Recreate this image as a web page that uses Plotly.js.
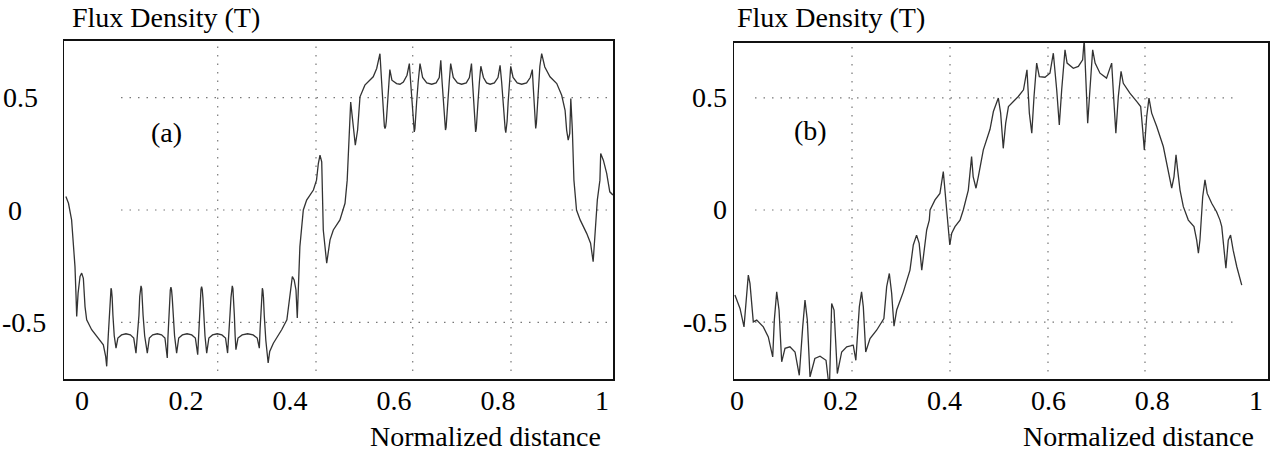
<!DOCTYPE html>
<html>
<head>
<meta charset="utf-8">
<script src="https://cdn.plot.ly/plotly-3.0.1.min.js"></script>
<style>html,body{margin:0;padding:0;background:#fff;}#chart{width:1271px;height:452px;}</style>
</head>
<body>
<div id="chart"></div>
<script>
// ---------- data ----------
const xTicks = [0, 0.2, 0.4, 0.6, 0.8, 1];
const xTickText = ['0', '0.2', '0.4', '0.6', '0.8', '1'];
const yTicks = [0.5, 0, -0.5];
const yTickText = ['0.5', '0', '-0.5'];
const yTitle = 'Flux Density (T)';
const xTitle = 'Normalized distance';
const panelLabels = ['(a)', '(b)'];

const distA = [-0.031,-0.026,-0.020,-0.016,-0.0135,-0.0115,-0.0102,-0.0075,-0.0038,-0.0006,0.0026,0.0058,0.009,0.0186,0.0314,0.041,0.0455,0.0475,
0.0505,0.0525,0.0538,0.0548,0.0558,0.0568,0.0580,0.0595,0.0620,0.0654,
0.069,0.076,0.0846,0.093,0.0995,0.1038,
0.1070,0.1095,0.1110,0.1122,0.1135,0.1148,0.1160,0.1175,0.1205,0.1256,
0.1295,0.136,0.1448,0.153,0.1595,0.164,
0.1652,0.1667,0.1685,0.1698,0.1710,0.1722,0.1735,0.1752,0.1780,0.1820,
0.186,0.193,0.202,0.211,0.218,0.2225,
0.2240,0.2255,0.2275,0.2288,0.2300,0.2312,0.2325,0.2342,0.2365,0.2398,
0.244,0.251,0.260,0.269,0.276,0.280,
0.2825,0.2845,0.2865,0.2878,0.2890,0.2902,0.2915,0.2930,0.2945,0.2960,
0.300,0.308,0.3185,0.329,0.337,0.341,
0.3425,0.3440,0.3453,0.3460,0.3468,0.3478,0.3490,0.3505,0.3535,0.3580,
0.361,0.368,0.384,0.394,0.400,0.4045,0.408,0.4115,0.414,0.416,0.419,0.4256,0.432,0.445,0.451,0.4545,0.4577,0.461,0.464,0.4706,0.477,0.4833,0.496,0.5058,0.510,0.5167,0.5206,0.5256,0.530,0.533,0.5346,0.544,0.560,0.5667,0.573,
0.576,0.5785,0.5805,0.5815,0.5827,0.5840,0.5852,0.5872,0.5895,0.592,
0.596,0.605,0.6115,0.618,0.625,0.6295,
0.6320,0.6345,0.6365,0.6378,0.6390,0.6402,0.6415,0.6435,0.6465,0.650,
0.655,0.663,0.6725,0.681,0.687,0.690,
0.6925,0.6948,0.6965,0.6978,0.6990,0.7002,0.7015,0.7035,0.7062,0.709,
0.714,0.722,0.730,0.739,0.745,0.749,
0.7510,0.7530,0.7547,0.7558,0.7570,0.7582,0.7595,0.7615,0.7642,0.767,
0.772,0.778,0.785,0.793,0.800,0.804,
0.8070,0.8095,0.8125,0.8138,0.8150,0.8162,0.8175,0.8195,0.8220,0.8245,
0.829,0.837,0.8455,0.855,0.862,0.866,
0.868,0.8698,0.8712,0.8725,0.8738,0.8752,0.8775,0.8805,0.884,
0.890,0.900,0.913,0.9225,0.929,0.932,0.935,0.938,0.940,0.943,0.946,0.951,0.958,0.9705,0.978,0.983,0.9865,0.991,0.996,0.9975,1.0026,1.009,1.015,1.021];

const fluxA = [0.060,0.030,-0.044,-0.150,-0.252,-0.380,-0.474,-0.370,-0.296,-0.281,-0.304,-0.430,-0.489,-0.533,-0.570,-0.600,-0.652,-0.696,
-0.560,-0.470,-0.390,-0.358,-0.348,-0.358,-0.390,-0.470,-0.560,-0.615,
-0.570,-0.556,-0.551,-0.556,-0.570,-0.637,
-0.560,-0.470,-0.385,-0.350,-0.338,-0.350,-0.385,-0.470,-0.560,-0.637,
-0.570,-0.556,-0.551,-0.556,-0.570,-0.659,
-0.570,-0.470,-0.390,-0.356,-0.344,-0.356,-0.390,-0.470,-0.560,-0.637,
-0.570,-0.556,-0.551,-0.556,-0.570,-0.644,
-0.570,-0.470,-0.390,-0.353,-0.341,-0.353,-0.390,-0.470,-0.560,-0.637,
-0.570,-0.556,-0.551,-0.556,-0.570,-0.637,
-0.560,-0.470,-0.390,-0.350,-0.338,-0.350,-0.390,-0.470,-0.560,-0.622,
-0.570,-0.556,-0.551,-0.556,-0.570,-0.615,
-0.530,-0.440,-0.380,-0.358,-0.348,-0.358,-0.390,-0.470,-0.580,-0.681,
-0.630,-0.593,-0.533,-0.489,-0.370,-0.296,-0.311,-0.356,-0.481,-0.326,-0.163,0.000,0.044,0.089,0.133,0.207,0.244,0.215,-0.089,-0.237,-0.133,-0.089,-0.044,0.030,0.133,0.481,0.385,0.289,0.356,0.489,0.504,0.556,0.593,0.630,0.696,
0.578,0.470,0.395,0.372,0.363,0.372,0.395,0.480,0.570,0.625,
0.578,0.563,0.560,0.570,0.600,0.652,
0.570,0.480,0.395,0.362,0.348,0.362,0.395,0.480,0.570,0.652,
0.590,0.566,0.560,0.566,0.590,0.667,
0.570,0.480,0.400,0.368,0.356,0.368,0.400,0.480,0.570,0.652,
0.590,0.566,0.560,0.566,0.590,0.652,
0.570,0.480,0.395,0.362,0.348,0.362,0.395,0.480,0.570,0.640,
0.590,0.566,0.560,0.566,0.590,0.644,
0.570,0.480,0.395,0.360,0.344,0.360,0.395,0.480,0.570,0.640,
0.590,0.566,0.560,0.566,0.590,0.625,
0.540,0.450,0.390,0.363,0.385,0.440,0.540,0.640,0.696,
0.637,0.593,0.563,0.511,0.444,0.356,0.311,0.341,0.496,0.356,0.133,0.000,-0.044,-0.104,-0.148,-0.230,-0.089,0.044,0.133,0.252,0.222,0.163,0.081,0.067];

const distB = [-0.004,0.0058,0.0135,0.0187,0.0218,0.025,0.0283,0.0314,0.038,0.0507,
0.0603,0.0688,0.0719,0.0765,0.081,0.0861,0.0925,0.102,0.1118,0.12,
0.1266,0.131,0.1355,0.1407,0.15,0.16,0.1715,0.178,0.1824,0.187,
0.1933,0.2017,0.2114,0.224,0.229,0.2357,0.24,0.2434,0.248,0.2563,
0.269,0.283,0.2884,0.2935,0.298,0.3025,0.3077,0.3205,0.3333,0.3397,
0.346,0.351,0.356,0.36,0.3655,0.3705,0.372,0.3815,0.391,0.3975,
0.4027,0.407,0.41,0.4137,0.42,0.4297,0.436,0.4457,0.449,0.452,
0.455,0.4605,0.465,0.4746,0.4875,0.494,0.5035,0.508,0.513,0.5177,
0.523,0.529,0.542,0.552,0.5587,0.5633,0.568,0.5723,0.5774,0.5825,
0.5934,0.603,0.6095,0.616,0.621,0.6256,0.632,0.636,0.648,0.6577,
0.666,0.669,0.6724,0.6757,0.68,0.6853,0.69,0.6994,0.712,0.7219,
0.7264,0.73,0.7347,0.74,0.7443,0.757,0.77,0.7778,0.7817,0.7848,
0.7894,0.7938,0.799,0.8087,0.8214,0.831,0.8376,0.842,0.8459,0.849,
0.8536,0.86,0.8696,0.8805,0.8857,0.889,0.892,0.8973,0.9017,0.906,
0.9146,0.924,0.9306,0.934,0.937,0.942,0.9466,0.951,0.956,0.963,
0.9725];

const fluxB = [-0.379,-0.439,-0.521,-0.387,-0.29,-0.327,-0.432,-0.499,-0.491,-0.521,
-0.566,-0.655,-0.491,-0.365,-0.446,-0.677,-0.617,-0.61,-0.633,-0.737,
-0.521,-0.402,-0.491,-0.744,-0.662,-0.652,-0.67,-0.8,-0.417,-0.446,
-0.729,-0.633,-0.61,-0.603,-0.67,-0.432,-0.365,-0.432,-0.633,-0.573,
-0.536,-0.484,-0.342,-0.283,-0.372,-0.518,-0.446,-0.365,-0.268,-0.156,
-0.112,-0.149,-0.268,-0.179,-0.089,-0.045,0,0.045,0.074,0.171,
0.045,-0.059,-0.156,-0.104,-0.074,-0.045,0,0.089,0.164,0.238,
0.149,0.097,0.149,0.268,0.36,0.439,0.499,0.432,0.275,0.387,
0.461,0.476,0.506,0.536,0.625,0.432,0.342,0.506,0.655,0.595,
0.592,0.61,0.699,0.536,0.379,0.536,0.714,0.655,0.632,0.64,
0.67,0.76,0.536,0.387,0.536,0.714,0.655,0.61,0.588,0.655,
0.476,0.342,0.506,0.618,0.565,0.521,0.484,0.461,0.357,0.268,
0.417,0.499,0.432,0.372,0.283,0.179,0.097,0.149,0.246,0.179,
0.089,0.015,-0.045,-0.074,-0.134,-0.193,-0.134,0.059,0.134,0.074,
0.03,-0.008,-0.045,-0.074,-0.134,-0.26,-0.134,-0.112,-0.179,-0.253,
-0.335];

// ---------- layout helpers ----------
const W = 1271, H = 452;
const PX = x => x / W;
const PY = y => 1 - y / H;
const FONT = 'Liberation Serif, "Times New Roman", Times, serif';
const lineStyle = {color: '#333', width: 1.3};
const gridStyle = {color: '#777', width: 1.2, dash: '1.5px,7px'};

const traces = [
  {x: distA, y: fluxA, xaxis: 'x', yaxis: 'y', type: 'scatter', mode: 'lines', line: lineStyle, hoverinfo: 'skip'},
  {x: distB, y: fluxB, xaxis: 'x2', yaxis: 'y2', type: 'scatter', mode: 'lines', line: lineStyle, hoverinfo: 'skip'}
];

function xAxis(domain, range, anchor) {
  return {domain: domain, range: range, anchor: anchor, showgrid: false, zeroline: false,
    showline: true, mirror: true, linecolor: '#111', linewidth: 1.5,
    ticks: '', tickmode: 'array', tickvals: xTicks, ticktext: xTickText,
    ticklabelstandoff: -4,
    tickfont: {family: FONT, size: 28, color: '#000'}, fixedrange: true};
}
function yAxis(domain, range, anchor) {
  return {domain: domain, range: range, anchor: anchor, showgrid: false, zeroline: false,
    showline: true, mirror: true, linecolor: '#111', linewidth: 1.5,
    ticks: '', showticklabels: false, fixedrange: true};
}

const shapes = [];
function addGrid(xr, yr, vx, hx0, hx1, vyBottom) {
  vx.forEach(v => shapes.push({type: 'line', layer: 'below', xref: xr, yref: yr + ' domain',
    x0: v, x1: v, y0: vyBottom, y1: 1, line: gridStyle}));
  yTicks.forEach(v => shapes.push({type: 'line', layer: 'below', xref: xr, yref: yr,
    x0: hx0, x1: hx1, y0: v, y1: v, line: gridStyle}));
}
addGrid('x', 'y', [0.261, 0.45, 0.636, 0.825], 0.075, 1.0096, 0.024);
addGrid('x2', 'y2', [0.2216, 0.4104, 0.5992, 0.7861], 0.0347, 0.967, 0.022);

const tf = {family: FONT, size: 28, color: '#000'};
const annotations = [];
// y tick labels (panel a labels sit centred-ish, panel b labels hug the frame)
const labelCentreA = [20, 15, 24];
yTicks.forEach((v, i) => {
  annotations.push({xref: 'paper', yref: 'y', x: PX(labelCentreA[i]), y: v, xanchor: 'center', yanchor: 'middle', text: yTickText[i], showarrow: false, font: tf});
  annotations.push({xref: 'paper', yref: 'y2', x: PX(729), y: v, xanchor: 'right', yanchor: 'middle', text: yTickText[i], showarrow: false, font: tf});
});
// axis titles
annotations.push({xref: 'paper', yref: 'paper', x: PX(70), y: PY(18), xanchor: 'left', yanchor: 'middle', text: yTitle, showarrow: false, font: tf});
annotations.push({xref: 'paper', yref: 'paper', x: PX(735), y: PY(18), xanchor: 'left', yanchor: 'middle', text: yTitle, showarrow: false, font: tf});
annotations.push({xref: 'paper', yref: 'paper', x: PX(485), y: PY(436), xanchor: 'center', yanchor: 'middle', text: xTitle, showarrow: false, font: tf});
annotations.push({xref: 'paper', yref: 'paper', x: PX(1138), y: PY(436), xanchor: 'center', yanchor: 'middle', text: xTitle, showarrow: false, font: tf});
// panel labels
annotations.push({xref: 'paper', yref: 'paper', x: PX(166), y: PY(132), xanchor: 'center', yanchor: 'middle', text: panelLabels[0], showarrow: false, font: tf});
annotations.push({xref: 'paper', yref: 'paper', x: PX(810), y: PY(130), xanchor: 'center', yanchor: 'middle', text: panelLabels[1], showarrow: false, font: tf});

const layout = {
  width: W, height: H, margin: {l: 0, r: 0, t: 0, b: 0},
  paper_bgcolor: '#fff', plot_bgcolor: '#fff', showlegend: false,
  xaxis: xAxis([PX(64), PX(613)], [-0.03462, 1.02115], 'y'),
  yaxis: yAxis([PY(379), PY(40.5)], [-0.7524, 0.7547], 'x'),
  xaxis2: xAxis([PX(734), PX(1268)], [-0.00578, 1.02312], 'y2'),
  yaxis2: yAxis([PY(379), PY(42.5)], [-0.7535, 0.7468], 'x2'),
  shapes: shapes,
  annotations: annotations
};

Plotly.newPlot('chart', traces, layout, {displayModeBar: false, staticPlot: true});
</script>
</body>
</html>
